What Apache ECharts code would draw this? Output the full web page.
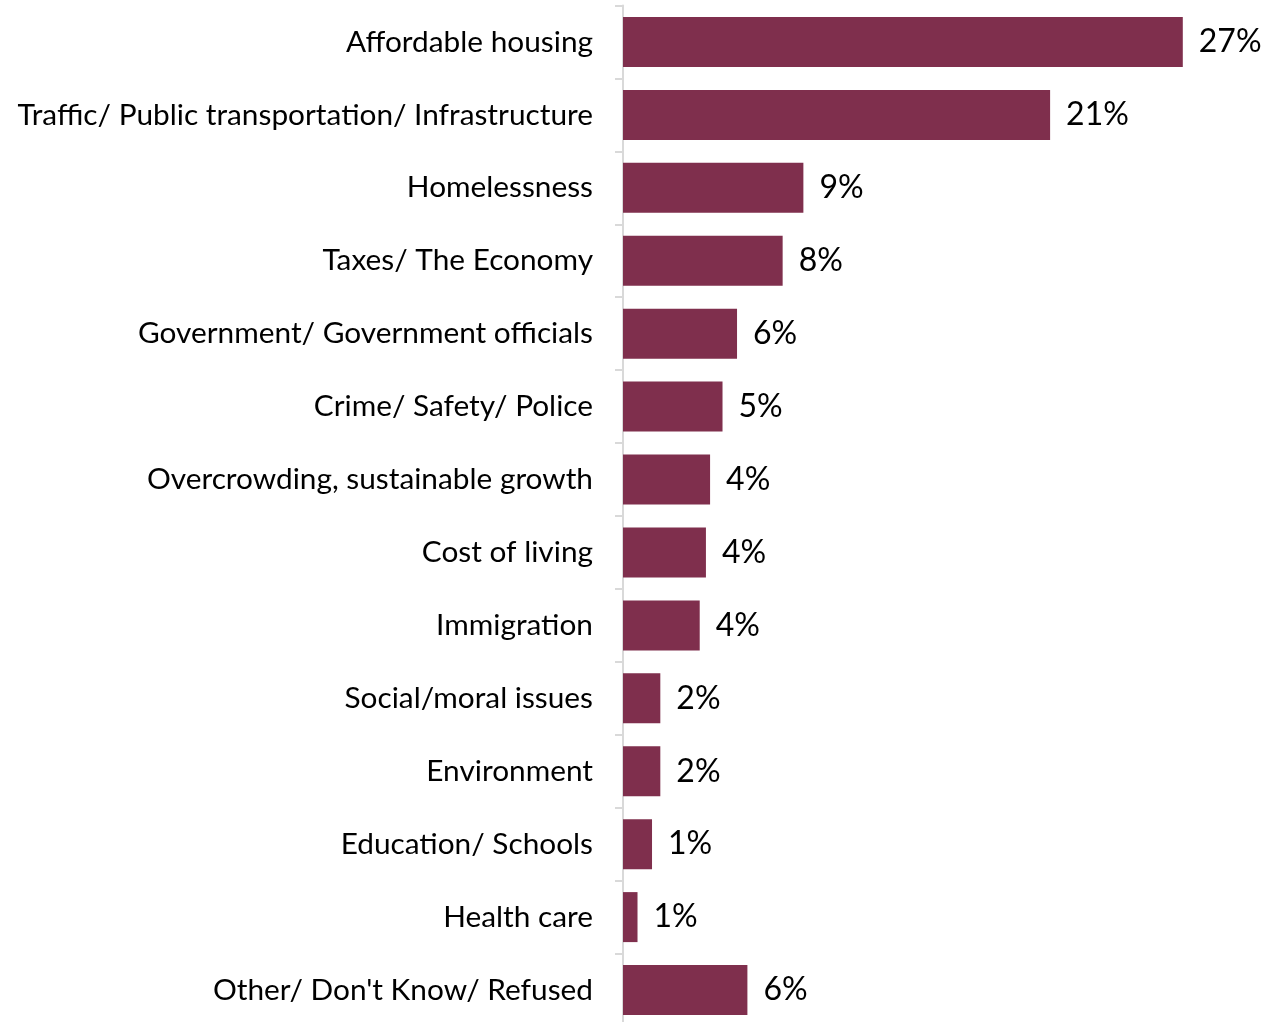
<!DOCTYPE html>
<html>
<head>
<meta charset="utf-8">
<script src="https://cdn.jsdelivr.net/npm/echarts@6/dist/echarts.min.js"></script>
<style>html,body{margin:0;padding:0;background:#fff}#c{width:1267px;height:1022px}</style>
</head>
<body>
<div id="c"></div>
<script>
const categories = ["Affordable housing","Traffic/ Public transportation/ Infrastructure","Homelessness","Taxes/ The Economy","Government/ Government officials","Crime/ Safety/ Police","Overcrowding, sustainable growth","Cost of living","Immigration","Social/moral issues","Environment","Education/ Schools","Health care","Other/ Don't Know/ Refused"];
const values = [27, 20.6, 8.7, 7.7, 5.5, 4.8, 4.2, 4.0, 3.7, 1.8, 1.8, 1.4, 0.7, 6.0];
const valueLabels = ["27%","21%","9%","8%","6%","5%","4%","4%","4%","2%","2%","1%","1%","6%"];

const chart = echarts.init(document.getElementById('c'), null, {renderer:'canvas'});
chart.setOption({
  animation:false,
  grid:{left:623, right:22, top:5.5, height:1021, containLabel:false, outerBoundsMode:'none'},
  xAxis:{type:'value', min:0, max:30, show:false},
  yAxis:{type:'category', data:categories, inverse:true,
    axisLine:{show:true, lineStyle:{color:'#d9d9d9', width:2}},
    axisTick:{show:true, length:8, lineStyle:{color:'#d9d9d9', width:2}},
    axisLabel:{margin:30, color:'#000', fontFamily:'Lato', fontSize:29.8}
  },
  series:[{type:'bar', data:values, barWidth:50, itemStyle:{color:'#7F2F4D'},
    label:{show:true, position:'right', distance:16, color:'#000', fontFamily:'Lato', fontSize:32,
      formatter:p=>valueLabels[p.dataIndex]}}]
});
</script>
</body>
</html>
